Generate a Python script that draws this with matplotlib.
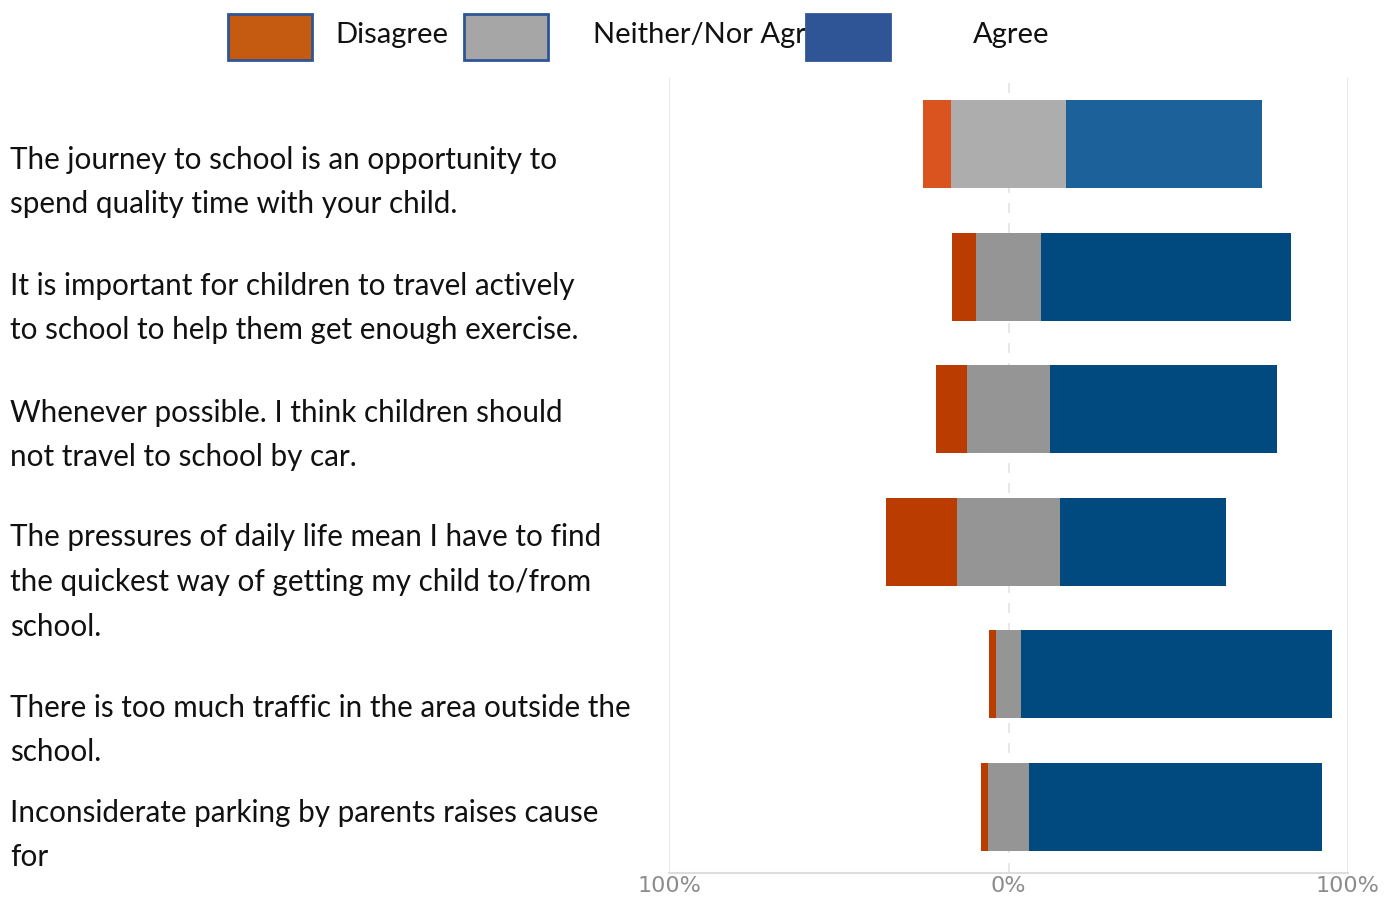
import matplotlib.pyplot as plt
from matplotlib.patches import Rectangle

# statements (left labels), top to bottom
statements = [
    "The journey to school is an opportunity to\nspend quality time with your child.",
    "It is important for children to travel actively\nto school to help them get enough exercise.",
    "Whenever possible. I think children should\nnot travel to school by car.",
    "The pressures of daily life mean I have to find\nthe quickest way of getting my child to/from\nschool.",
    "There is too much traffic in the area outside the\nschool.",
    "Inconsiderate parking by parents raises cause\nfor",
]

# percentages
disagree = [8.5, 7.1, 9.4, 20.9, 2.1, 2.1]
neither = [33.6, 19.1, 24.2, 30.3, 7.1, 12.1]
agree = [58.0, 73.6, 66.9, 48.9, 91.6, 86.3]

legend_labels = ["Disagree", "Neither/Nor Agr", "Agree"]
tick_labels = ["100%", "0%", "100%"]

# first row drawn in slightly lighter tones
orange = ["#D9541E"] + ["#BA3C00"] * 5
grey = ["#ADADAD"] + ["#959595"] * 5
blue = ["#1C6199"] + ["#004A80"] * 5

W, H = 1386, 900
fig = plt.figure(figsize=(W / 100, H / 100), dpi=100)
ax = fig.add_axes([669 / W, 1 - 873 / H, (1348 - 669) / W, (873 - 78) / H])

y = list(range(len(statements)))
left_n = [-n / 2 for n in neither]
left_d = [-n / 2 - d for n, d in zip(neither, disagree)]
right_n = [n / 2 for n in neither]

ax.barh(y, disagree, left=left_d, height=0.665, color=orange, zorder=3)
ax.barh(y, neither, left=left_n, height=0.665, color=grey, zorder=3)
ax.barh(y, agree, left=right_n, height=0.665, color=blue, zorder=3)

ax.set_xlim(-100, 100)
ax.set_ylim(5.5, -0.5)
ax.axvline(-100, color="#E3E3E3", lw=1.2, zorder=1)
ax.axvline(100, color="#E3E3E3", lw=1.2, zorder=1)
ax.axvline(0, color="#E3E3E3", lw=1.2, ls=(0, (6, 6)), zorder=1)
for s in ["top", "right", "left"]:
    ax.spines[s].set_visible(False)
ax.spines["bottom"].set_color("#DDDDDD")
ax.spines["bottom"].set_linewidth(1.5)
ax.set_yticks([])
ax.set_xticks([-100, 0, 100])
ax.set_xticklabels(tick_labels, family=["Liberation Sans Narrow", "DejaVu Sans"],
                   fontsize=16, color="#8C8C8C")
ax.tick_params(axis="x", length=0, pad=2)

# left labels
label_y = [182, 308, 435, 582, 730, 835]
for txt, ly in zip(statements, label_y):
    fig.text(10 / W, 1 - ly / H, txt, ha="left", va="center", fontsize=21.3,
             family="Lato", color="#111111", linespacing=1.72)

# legend drawn by hand at top
legend_colors = ["#C55A11", "#A6A6A6", "#2F5597"]
box_x = [228, 464, 806]
text_x = [335, 593, 973]
for i, (lab, c) in enumerate(zip(legend_labels, legend_colors)):
    fig.patches.append(Rectangle((box_x[i] / W, 1 - 60 / H), 84 / W, 46 / H,
                                 transform=fig.transFigure, facecolor=c,
                                 edgecolor="#2F5597", lw=2, zorder=5))
    fig.text(text_x[i] / W, 1 - 35 / H, lab, ha="left", va="center",
             fontsize=21, family="Lato", color="#111111", zorder=4)

fig.savefig("out.png", dpi=100)
